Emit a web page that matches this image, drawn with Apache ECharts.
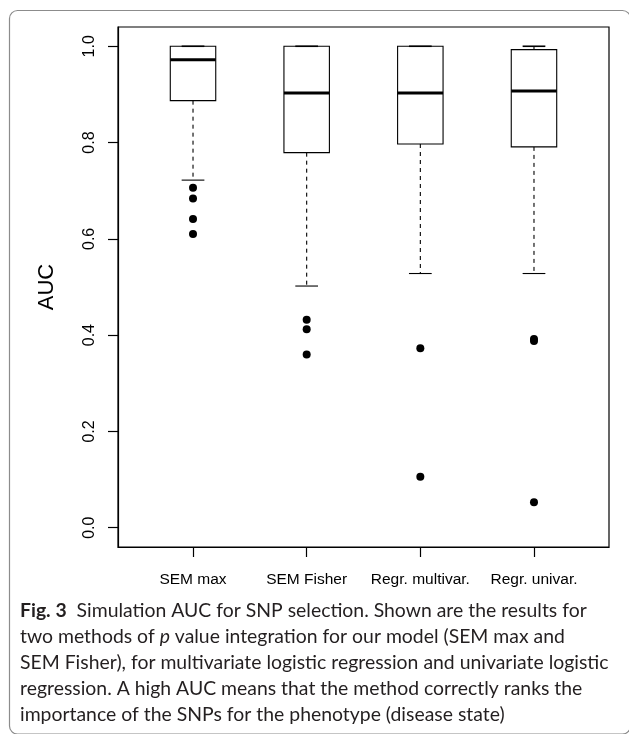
<!DOCTYPE html>
<html>
<head>
<meta charset="utf-8">
<script src="https://cdn.jsdelivr.net/npm/echarts@6/dist/echarts.min.js"></script>
<style>
  html, body { margin: 0; padding: 0; background: #fff; }
  #main { width: 629px; height: 734px; }
</style>
</head>
<body>
<div id="main"></div>
<script>
const categories = ['SEM max', 'SEM Fisher', 'Regr. multivar.', 'Regr. univar.'];
// lower whisker, Q1, median, Q3, upper whisker
const boxStats = [
  [0.722, 0.887, 0.972, 1.0, 1.0],
  [0.502, 0.779, 0.903, 1.0, 1.0],
  [0.528, 0.797, 0.903, 1.0, 1.0],
  [0.528, 0.791, 0.907, 0.993, 1.0]
];
const outliers = [
  [0.706, 0.684, 0.641, 0.610],
  [0.432, 0.412, 0.360],
  [0.373, 0.106],
  [0.392, 0.388, 0.053]
];
const yTicks = [0, 0.2, 0.4, 0.6, 0.8, 1.0];
const xTicks = [1, 2, 3, 4];

const rFont = '"Liberation Sans", Arial, Helvetica, sans-serif';

const boxData = boxStats.map((s, i) => [i + 1].concat(s));
const outlierData = [];
outliers.forEach((list, i) => {
  list.forEach(v => outlierData.push([i + 1, v]));
});

// R style box: dashed whiskers, half-width staples, thick median
function renderBox (params, api) {
  const x = api.value(0);
  const lo = api.coord([x, api.value(1)]);
  const q1 = api.coord([x, api.value(2)]);
  const med = api.coord([x, api.value(3)]);
  const q3 = api.coord([x, api.value(4)]);
  const hi = api.coord([x, api.value(5)]);
  const w = api.size([0.4, 0])[0];
  const cx = lo[0];
  const thin = { stroke: '#000', lineWidth: 1.1 };
  const dash = { stroke: '#000', lineWidth: 1.1, lineDash: [4, 4] };
  return {
    type: 'group',
    children: [
      { type: 'line', shape: { x1: cx, y1: q1[1], x2: cx, y2: lo[1] }, style: dash },
      { type: 'line', shape: { x1: cx, y1: q3[1], x2: cx, y2: hi[1] }, style: dash },
      { type: 'rect', shape: { x: cx - w / 2, y: q3[1], width: w, height: q1[1] - q3[1] },
        style: { fill: '#fff', stroke: '#000', lineWidth: 1.1 } },
      { type: 'line', shape: { x1: cx - w / 4, y1: lo[1], x2: cx + w / 4, y2: lo[1] }, style: thin },
      { type: 'line', shape: { x1: cx - w / 4, y1: hi[1], x2: cx + w / 4, y2: hi[1] },
        style: { stroke: '#000', lineWidth: 1.6 } },
      { type: 'line', shape: { x1: cx - w / 2, y1: med[1], x2: cx + w / 2, y2: med[1] },
        style: { stroke: '#000', lineWidth: 3 } }
    ]
  };
}

const chart = echarts.init(document.getElementById('main'), null, { renderer: 'canvas' });

const option = {
  backgroundColor: '#fff',
  animation: false,
  grid: {
    left: 118,
    right: 20,
    top: 27,
    bottom: 187,
    show: true,
    borderColor: '#000',
    borderWidth: 1.2,
    backgroundColor: 'transparent'
  },
  xAxis: {
    type: 'value',
    min: 0.34,
    max: 4.66,
    splitLine: { show: false },
    axisLine: { show: true, onZero: false, lineStyle: { color: '#000', width: 1.2 } },
    axisTick: {
      show: true,
      inside: false,
      customValues: xTicks,
      length: 10,
      lineStyle: { color: '#000', width: 1.2 }
    },
    axisLabel: {
      customValues: xTicks,
      margin: 25,
      color: '#000',
      fontSize: 15.5,
      fontFamily: rFont,
      formatter: v => categories[Math.round(v) - 1] || ''
    }
  },
  yAxis: {
    type: 'value',
    min: -0.04,
    max: 1.04,
    name: 'AUC',
    nameLocation: 'middle',
    nameGap: 60,
    nameTextStyle: { color: '#000', fontSize: 22, fontFamily: rFont },
    splitLine: { show: false },
    axisLine: { show: true, onZero: false, lineStyle: { color: '#000', width: 1.2 } },
    axisTick: {
      show: true,
      inside: false,
      customValues: yTicks,
      length: 10,
      lineStyle: { color: '#000', width: 1.2 }
    },
    axisLabel: {
      customValues: yTicks,
      rotate: 90,
      margin: 20,
      color: '#000',
      fontSize: 16,
      fontFamily: rFont,
      formatter: v => v.toFixed(1)
    }
  },
  series: [
    {
      type: 'custom',
      renderItem: renderBox,
      encode: { x: 0, y: [1, 2, 3, 4, 5] },
      data: boxData,
      z: 2
    },
    {
      type: 'scatter',
      data: outlierData,
      symbol: 'circle',
      symbolSize: 8,
      itemStyle: { color: '#000', opacity: 1 },
      z: 3
    }
  ],
  graphic: [
    {
      type: 'rect',
      shape: { x: 9.5, y: 10.5, width: 621, height: 723.5, r: 8 },
      style: { fill: 'none', stroke: '#8c8c8c', lineWidth: 1.2 },
      silent: true
    },
    {
      type: 'text',
      left: 20,
      top: 598,
      style: {
        text: '{b|Fig. 3}  Simulation AUC for SNP selection. Shown are the results for\n' +
          'two methods of {i|p} value integration for our model (SEM max and\n' +
          'SEM Fisher), for multivariate logistic regression and univariate logistic\n' +
          'regression. A high AUC means that the method correctly ranks the\n' +
          'importance of the SNPs for the phenotype (disease state)',
        fill: '#231f20',
        font: '19.4px Lato, "Open Sans", sans-serif',
        lineHeight: 26,
        rich: {
          b: { fontWeight: 'bold', fontSize: 19.4, fontFamily: 'Lato', fill: '#231f20', lineHeight: 26 },
          i: { fontStyle: 'italic', fontSize: 19.4, fontFamily: 'Lato', fill: '#231f20', lineHeight: 26 }
        }
      }
    }
  ]
};

chart.setOption(option);
</script>
</body>
</html>
